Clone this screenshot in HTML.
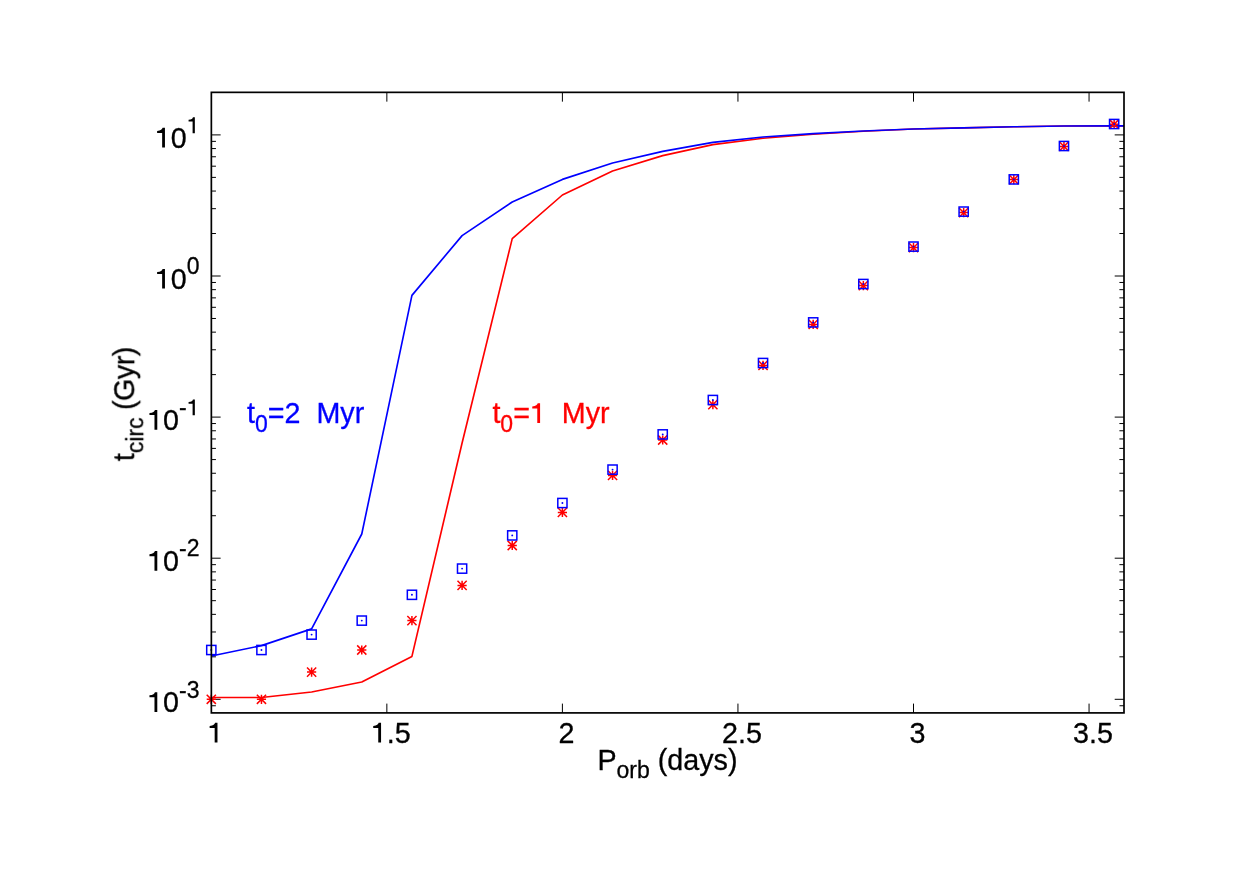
<!DOCTYPE html>
<html><head><meta charset="utf-8"><title>plot</title>
<style>
html,body{margin:0;padding:0;background:#fff;}
body{width:1245px;height:881px;overflow:hidden;}
svg{display:block;will-change:transform;}
text{font-family:"Liberation Sans",sans-serif;font-kerning:none;}
</style></head><body>
<svg width="1245" height="881" viewBox="0 0 1245 881">
<rect x="0" y="0" width="1245" height="881" fill="#ffffff"/>

<g stroke="#000" stroke-width="1.00" fill="none" stroke-linecap="butt">
<path d="M211.35 699.30h9.30M1124.00 699.30h-9.30"/>
<path d="M211.35 656.82h4.60M1124.00 656.82h-4.60"/>
<path d="M211.35 631.98h4.60M1124.00 631.98h-4.60"/>
<path d="M211.35 614.35h4.60M1124.00 614.35h-4.60"/>
<path d="M211.35 600.68h4.60M1124.00 600.68h-4.60"/>
<path d="M211.35 589.50h4.60M1124.00 589.50h-4.60"/>
<path d="M211.35 580.06h4.60M1124.00 580.06h-4.60"/>
<path d="M211.35 571.87h4.60M1124.00 571.87h-4.60"/>
<path d="M211.35 564.66h4.60M1124.00 564.66h-4.60"/>
<path d="M211.35 558.20h9.30M1124.00 558.20h-9.30"/>
<path d="M211.35 515.72h4.60M1124.00 515.72h-4.60"/>
<path d="M211.35 490.88h4.60M1124.00 490.88h-4.60"/>
<path d="M211.35 473.25h4.60M1124.00 473.25h-4.60"/>
<path d="M211.35 459.58h4.60M1124.00 459.58h-4.60"/>
<path d="M211.35 448.40h4.60M1124.00 448.40h-4.60"/>
<path d="M211.35 438.96h4.60M1124.00 438.96h-4.60"/>
<path d="M211.35 430.77h4.60M1124.00 430.77h-4.60"/>
<path d="M211.35 423.56h4.60M1124.00 423.56h-4.60"/>
<path d="M211.35 417.10h9.30M1124.00 417.10h-9.30"/>
<path d="M211.35 374.62h4.60M1124.00 374.62h-4.60"/>
<path d="M211.35 349.78h4.60M1124.00 349.78h-4.60"/>
<path d="M211.35 332.15h4.60M1124.00 332.15h-4.60"/>
<path d="M211.35 318.48h4.60M1124.00 318.48h-4.60"/>
<path d="M211.35 307.30h4.60M1124.00 307.30h-4.60"/>
<path d="M211.35 297.86h4.60M1124.00 297.86h-4.60"/>
<path d="M211.35 289.67h4.60M1124.00 289.67h-4.60"/>
<path d="M211.35 282.46h4.60M1124.00 282.46h-4.60"/>
<path d="M211.35 276.00h9.30M1124.00 276.00h-9.30"/>
<path d="M211.35 233.52h4.60M1124.00 233.52h-4.60"/>
<path d="M211.35 208.68h4.60M1124.00 208.68h-4.60"/>
<path d="M211.35 191.05h4.60M1124.00 191.05h-4.60"/>
<path d="M211.35 177.38h4.60M1124.00 177.38h-4.60"/>
<path d="M211.35 166.20h4.60M1124.00 166.20h-4.60"/>
<path d="M211.35 156.76h4.60M1124.00 156.76h-4.60"/>
<path d="M211.35 148.57h4.60M1124.00 148.57h-4.60"/>
<path d="M211.35 141.36h4.60M1124.00 141.36h-4.60"/>
<path d="M211.35 134.90h9.30M1124.00 134.90h-9.30"/>
<path d="M211.35 705.76h4.5M1124.00 705.76h-4.5"/>
<path d="M386.85 712.90v-9.3M386.85 92.35v9.3"/>
<path d="M562.40 712.90v-9.3M562.40 92.35v9.3"/>
<path d="M737.95 712.90v-9.3M737.95 92.35v9.3"/>
<path d="M913.50 712.90v-9.3M913.50 92.35v9.3"/>
<path d="M1089.05 712.90v-9.3M1089.05 92.35v9.3"/>
</g>
<clipPath id="c"><rect x="211.35" y="92.35" width="912.65" height="620.55"/></clipPath>
<polyline points="211.30,697.50 261.46,697.50 311.61,692.00 361.77,682.00 411.93,656.40 462.09,443.00 512.24,238.60 562.40,195.00 612.56,171.00 662.71,155.60 712.87,144.60 763.03,138.20 813.19,134.20 863.34,131.20 913.50,129.00 963.66,127.85 1013.81,126.80 1063.97,126.05 1114.13,125.90 1124.00,125.80" fill="none" stroke="#ff0000" stroke-width="1.65" stroke-linejoin="round" clip-path="url(#c)"/>
<polyline points="211.30,656.00 261.46,645.60 311.61,628.90 361.77,534.00 411.93,295.40 462.09,235.60 512.24,202.00 562.40,179.40 612.56,163.00 662.71,151.40 712.87,142.40 763.03,137.00 813.19,133.60 863.34,131.00 913.50,129.00 963.66,127.85 1013.81,126.80 1063.97,126.05 1114.13,125.90 1124.00,125.80" fill="none" stroke="#0000ff" stroke-width="1.65" stroke-linejoin="round" clip-path="url(#c)"/>
<g stroke="#ff0000" stroke-width="1.5" fill="none">
<path d="M206.70 699.30h9.20M211.30 694.70v9.20M206.70 694.70l9.20 9.20M206.70 703.90l9.20 -9.20"/>
<path d="M256.86 699.30h9.20M261.46 694.70v9.20M256.86 694.70l9.20 9.20M256.86 703.90l9.20 -9.20"/>
<path d="M307.01 672.10h9.20M311.61 667.50v9.20M307.01 667.50l9.20 9.20M307.01 676.70l9.20 -9.20"/>
<path d="M357.17 650.00h9.20M361.77 645.40v9.20M357.17 645.40l9.20 9.20M357.17 654.60l9.20 -9.20"/>
<path d="M407.33 620.60h9.20M411.93 616.00v9.20M407.33 616.00l9.20 9.20M407.33 625.20l9.20 -9.20"/>
<path d="M457.49 585.40h9.20M462.09 580.80v9.20M457.49 580.80l9.20 9.20M457.49 590.00l9.20 -9.20"/>
<path d="M507.64 545.50h9.20M512.24 540.90v9.20M507.64 540.90l9.20 9.20M507.64 550.10l9.20 -9.20"/>
<path d="M557.80 512.40h9.20M562.40 507.80v9.20M557.80 507.80l9.20 9.20M557.80 517.00l9.20 -9.20"/>
<path d="M607.96 475.40h9.20M612.56 470.80v9.20M607.96 470.80l9.20 9.20M607.96 480.00l9.20 -9.20"/>
<path d="M658.11 440.00h9.20M662.71 435.40v9.20M658.11 435.40l9.20 9.20M658.11 444.60l9.20 -9.20"/>
<path d="M708.27 404.60h9.20M712.87 400.00v9.20M708.27 400.00l9.20 9.20M708.27 409.20l9.20 -9.20"/>
<path d="M758.43 365.40h9.20M763.03 360.80v9.20M758.43 360.80l9.20 9.20M758.43 370.00l9.20 -9.20"/>
<path d="M808.59 324.40h9.20M813.19 319.80v9.20M808.59 319.80l9.20 9.20M808.59 329.00l9.20 -9.20"/>
<path d="M858.74 285.60h9.20M863.34 281.00v9.20M858.74 281.00l9.20 9.20M858.74 290.20l9.20 -9.20"/>
<path d="M908.90 247.60h9.20M913.50 243.00v9.20M908.90 243.00l9.20 9.20M908.90 252.20l9.20 -9.20"/>
<path d="M959.06 212.60h9.20M963.66 208.00v9.20M959.06 208.00l9.20 9.20M959.06 217.20l9.20 -9.20"/>
<path d="M1009.21 179.60h9.20M1013.81 175.00v9.20M1009.21 175.00l9.20 9.20M1009.21 184.20l9.20 -9.20"/>
<path d="M1059.37 146.40h9.20M1063.97 141.80v9.20M1059.37 141.80l9.20 9.20M1059.37 151.00l9.20 -9.20"/>
<path d="M1109.53 124.20h9.20M1114.13 119.60v9.20M1109.53 119.60l9.20 9.20M1109.53 128.80l9.20 -9.20"/>
</g>
<g stroke="#0000ff" stroke-width="1.5" fill="none">
<rect x="206.70" y="645.40" width="9.20" height="9.20"/>
<rect x="256.86" y="645.40" width="9.20" height="9.20"/>
<rect x="307.01" y="630.00" width="9.20" height="9.20"/>
<rect x="357.17" y="616.00" width="9.20" height="9.20"/>
<rect x="407.33" y="590.20" width="9.20" height="9.20"/>
<rect x="457.49" y="564.00" width="9.20" height="9.20"/>
<rect x="507.64" y="530.80" width="9.20" height="9.20"/>
<rect x="557.80" y="498.40" width="9.20" height="9.20"/>
<rect x="607.96" y="465.00" width="9.20" height="9.20"/>
<rect x="658.11" y="429.80" width="9.20" height="9.20"/>
<rect x="708.27" y="395.40" width="9.20" height="9.20"/>
<rect x="758.43" y="358.40" width="9.20" height="9.20"/>
<rect x="808.59" y="317.80" width="9.20" height="9.20"/>
<rect x="858.74" y="279.40" width="9.20" height="9.20"/>
<rect x="908.90" y="242.00" width="9.20" height="9.20"/>
<rect x="959.06" y="207.00" width="9.20" height="9.20"/>
<rect x="1009.21" y="174.80" width="9.20" height="9.20"/>
<rect x="1059.37" y="141.40" width="9.20" height="9.20"/>
<rect x="1109.53" y="119.40" width="9.20" height="9.20"/>
</g>
<g fill="#0000ff">
<circle cx="211.30" cy="650.00" r="0.95"/>
<circle cx="261.46" cy="650.00" r="0.95"/>
<circle cx="311.61" cy="634.60" r="0.95"/>
<circle cx="361.77" cy="620.60" r="0.95"/>
<circle cx="411.93" cy="594.80" r="0.95"/>
<circle cx="462.09" cy="568.60" r="0.95"/>
<circle cx="512.24" cy="535.40" r="0.95"/>
<circle cx="562.40" cy="503.00" r="0.95"/>
<circle cx="612.56" cy="469.60" r="0.95"/>
<circle cx="662.71" cy="434.40" r="0.95"/>
<circle cx="712.87" cy="400.00" r="0.95"/>
<circle cx="763.03" cy="363.00" r="0.95"/>
<circle cx="813.19" cy="322.40" r="0.95"/>
<circle cx="863.34" cy="284.00" r="0.95"/>
<circle cx="913.50" cy="246.60" r="0.95"/>
<circle cx="963.66" cy="211.60" r="0.95"/>
<circle cx="1013.81" cy="179.40" r="0.95"/>
<circle cx="1063.97" cy="146.00" r="0.95"/>
<circle cx="1114.13" cy="124.00" r="0.95"/>
</g>
<rect x="211.35" y="92.35" width="912.65" height="620.55" fill="none" stroke="#000" stroke-width="1.7"/>
<g opacity="0.999">
<g transform="translate(199.50,147.50)" fill="#000"><path transform="translate(-44.71,0.00) scale(28.700,-28.700)" d="M0.256 0H0.354V0.687H0.271C0.259 0.632 0.211 0.586 0.081 0.579V0.509H0.256Z" fill="#000"/><text transform="translate(-28.75,0.00) scale(1,1.000)" font-size="28.7" stroke="#000" stroke-width="0.30" letter-spacing="0.00" xml:space="preserve">0</text><path transform="translate(-12.79,-14.35) scale(23.000,-23.000)" d="M0.256 0H0.354V0.687H0.271C0.259 0.632 0.211 0.586 0.081 0.579V0.509H0.256Z" fill="#000"/></g>
<g transform="translate(199.50,288.60)" fill="#000"><path transform="translate(-44.71,0.00) scale(28.700,-28.700)" d="M0.256 0H0.354V0.687H0.271C0.259 0.632 0.211 0.586 0.081 0.579V0.509H0.256Z" fill="#000"/><text transform="translate(-28.75,0.00) scale(1,1.000)" font-size="28.7" stroke="#000" stroke-width="0.30" letter-spacing="0.00" xml:space="preserve">0</text><text transform="translate(-12.79,-14.35) scale(1,1.000)" font-size="23.0" stroke="#000" stroke-width="0.30" letter-spacing="0.00" xml:space="preserve">0</text></g>
<g transform="translate(199.50,429.70)" fill="#000"><path transform="translate(-52.37,0.00) scale(28.700,-28.700)" d="M0.256 0H0.354V0.687H0.271C0.259 0.632 0.211 0.586 0.081 0.579V0.509H0.256Z" fill="#000"/><text transform="translate(-36.41,0.00) scale(1,1.000)" font-size="28.7" stroke="#000" stroke-width="0.30" letter-spacing="0.00" xml:space="preserve">0</text><text transform="translate(-20.45,-14.35) scale(1,1.000)" font-size="23.0" stroke="#000" stroke-width="0.30" letter-spacing="0.00" xml:space="preserve">-</text><path transform="translate(-12.79,-14.35) scale(23.000,-23.000)" d="M0.256 0H0.354V0.687H0.271C0.259 0.632 0.211 0.586 0.081 0.579V0.509H0.256Z" fill="#000"/></g>
<g transform="translate(199.50,570.80)" fill="#000"><path transform="translate(-52.37,0.00) scale(28.700,-28.700)" d="M0.256 0H0.354V0.687H0.271C0.259 0.632 0.211 0.586 0.081 0.579V0.509H0.256Z" fill="#000"/><text transform="translate(-36.41,0.00) scale(1,1.000)" font-size="28.7" stroke="#000" stroke-width="0.30" letter-spacing="0.00" xml:space="preserve">0</text><text transform="translate(-20.45,-14.35) scale(1,1.000)" font-size="23.0" stroke="#000" stroke-width="0.30" letter-spacing="0.00" xml:space="preserve">-2</text></g>
<g transform="translate(199.50,711.90)" fill="#000"><path transform="translate(-52.37,0.00) scale(28.700,-28.700)" d="M0.256 0H0.354V0.687H0.271C0.259 0.632 0.211 0.586 0.081 0.579V0.509H0.256Z" fill="#000"/><text transform="translate(-36.41,0.00) scale(1,1.000)" font-size="28.7" stroke="#000" stroke-width="0.30" letter-spacing="0.00" xml:space="preserve">0</text><text transform="translate(-20.45,-14.35) scale(1,1.000)" font-size="23.0" stroke="#000" stroke-width="0.30" letter-spacing="0.00" xml:space="preserve">-3</text></g>
<g transform="translate(215.30,742.50)" fill="#000"><path transform="translate(-7.98,0.00) scale(28.700,-28.700)" d="M0.256 0H0.354V0.687H0.271C0.259 0.632 0.211 0.586 0.081 0.579V0.509H0.256Z" fill="#000"/></g>
<g transform="translate(390.85,742.50)" fill="#000"><path transform="translate(-19.95,0.00) scale(28.700,-28.700)" d="M0.256 0H0.354V0.687H0.271C0.259 0.632 0.211 0.586 0.081 0.579V0.509H0.256Z" fill="#000"/><text transform="translate(-3.99,0.00) scale(1,1.000)" font-size="28.7" stroke="#000" stroke-width="0.30" letter-spacing="0.00" xml:space="preserve">.5</text></g>
<g transform="translate(566.40,742.50)" fill="#000"><text transform="translate(-7.98,0.00) scale(1,1.000)" font-size="28.7" stroke="#000" stroke-width="0.30" letter-spacing="0.00" xml:space="preserve">2</text></g>
<g transform="translate(741.95,742.50)" fill="#000"><text transform="translate(-19.95,0.00) scale(1,1.000)" font-size="28.7" stroke="#000" stroke-width="0.30" letter-spacing="0.00" xml:space="preserve">2.5</text></g>
<g transform="translate(917.50,742.50)" fill="#000"><text transform="translate(-7.98,0.00) scale(1,1.000)" font-size="28.7" stroke="#000" stroke-width="0.30" letter-spacing="0.00" xml:space="preserve">3</text></g>
<g transform="translate(1093.05,742.50)" fill="#000"><text transform="translate(-19.95,0.00) scale(1,1.000)" font-size="28.7" stroke="#000" stroke-width="0.30" letter-spacing="0.00" xml:space="preserve">3.5</text></g>
<g transform="translate(597.40,769.80)" fill="#000"><text transform="translate(0.00,0.00) scale(1,1.000)" font-size="28.7" stroke="#000" stroke-width="0.30" letter-spacing="0.00" xml:space="preserve">P</text><text transform="translate(19.14,8.60) scale(1,1.000)" font-size="23.0" stroke="#000" stroke-width="0.30" letter-spacing="0.00" xml:space="preserve">orb</text><text transform="translate(52.38,0.00) scale(1,1.000)" font-size="28.7" stroke="#000" stroke-width="0.30" letter-spacing="0.00" xml:space="preserve"> (days)</text></g>
<g transform="translate(134.20,461.20) rotate(-90)" fill="#000"><text transform="translate(0.00,0.00) scale(1,1.000)" font-size="28.7" stroke="#000" stroke-width="0.30" letter-spacing="0.00" xml:space="preserve">t</text><text transform="translate(7.97,8.60) scale(1,1.000)" font-size="23.0" stroke="#000" stroke-width="0.30" letter-spacing="0.00" xml:space="preserve">circ</text><text transform="translate(43.74,0.00) scale(1,1.000)" font-size="28.7" stroke="#000" stroke-width="0.30" letter-spacing="-0.50" xml:space="preserve"> (Gyr)</text></g>
<g transform="translate(247.00,423.00)" fill="#0000ff"><text transform="translate(0.00,0.00) scale(1,1.000)" font-size="28.7" stroke="#0000ff" stroke-width="0.30" letter-spacing="0.00" xml:space="preserve">t</text><text transform="translate(7.97,8.60) scale(1,1.000)" font-size="23.0" stroke="#0000ff" stroke-width="0.30" letter-spacing="0.00" xml:space="preserve">0</text><text transform="translate(20.77,0.00) scale(1,1.000)" font-size="28.7" stroke="#0000ff" stroke-width="0.30" letter-spacing="0.00" xml:space="preserve">=2  Myr</text></g>
<g transform="translate(492.40,423.00)" fill="#ff0000"><text transform="translate(0.00,0.00) scale(1,1.000)" font-size="28.7" stroke="#ff0000" stroke-width="0.30" letter-spacing="0.00" xml:space="preserve">t</text><text transform="translate(7.97,8.60) scale(1,1.000)" font-size="23.0" stroke="#ff0000" stroke-width="0.30" letter-spacing="0.00" xml:space="preserve">0</text><text transform="translate(20.77,0.00) scale(1,1.000)" font-size="28.7" stroke="#ff0000" stroke-width="0.30" letter-spacing="0.00" xml:space="preserve">=</text><path transform="translate(37.53,0.00) scale(28.700,-28.700)" d="M0.256 0H0.354V0.687H0.271C0.259 0.632 0.211 0.586 0.081 0.579V0.509H0.256Z" fill="#ff0000"/><text transform="translate(53.49,0.00) scale(1,1.000)" font-size="28.7" stroke="#ff0000" stroke-width="0.30" letter-spacing="0.00" xml:space="preserve">  Myr</text></g>
</g>
</svg></body></html>
